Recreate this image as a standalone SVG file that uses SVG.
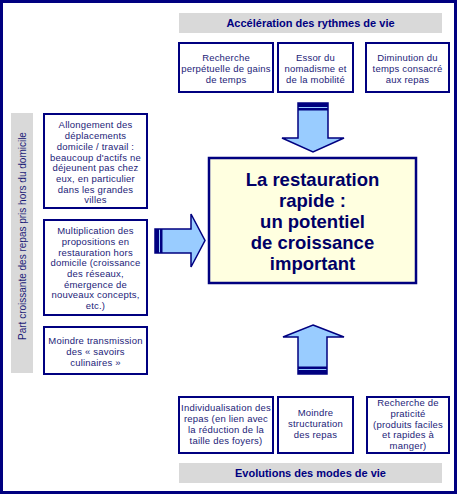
<svg xmlns="http://www.w3.org/2000/svg" width="459" height="497" viewBox="0 0 459 497">
<style>
.box{fill:#fff;stroke:#000080;stroke-width:2}
.hdr{fill:#d9d9d9}
.t{font-family:"Liberation Sans",Arial,sans-serif;font-size:9.5px;letter-spacing:0.2px;fill:#1c1c78;text-anchor:middle}
.h{font-family:"Liberation Sans",Arial,sans-serif;font-size:11px;font-weight:bold;fill:#000080;text-anchor:middle}
.c{font-family:"Liberation Sans",Arial,sans-serif;font-size:18.5px;font-weight:bold;fill:#000066;text-anchor:middle}
.arr{fill:#99ccff;stroke:#000080;stroke-width:1.5;stroke-linejoin:miter}
.band{fill:#000080}
.v{font-family:"Liberation Sans",Arial,sans-serif;font-size:10px;fill:#1c1c78;text-anchor:middle}
</style>
<rect x="1.5" y="1.5" width="454" height="491" fill="#fff" stroke="#000080" stroke-width="3"/>

<g id="header-top">
<rect class="hdr" x="179" y="13" width="263" height="20"/>
<text class="h" x="310.5" y="27">Accélération des rythmes de vie</text>
</g>
<g id="header-bottom">
<rect class="hdr" x="179" y="463" width="263" height="20"/>
<text class="h" x="310.5" y="477">Evolutions des modes de vie</text>
</g>
<g id="header-left">
<rect class="hdr" x="11" y="113" width="22" height="260"/>
<text class="v" transform="translate(25.5,236) rotate(-90)">Part croissante des repas pris hors du domicile</text>
</g>

<g id="top1">
<rect class="box" x="179" y="43" width="94" height="49"/>
<text class="t" x="226" y="61.3">Recherche</text>
<text class="t" x="226" y="72.3">perpétuelle de gains</text>
<text class="t" x="226" y="83.3">de temps</text>
</g>
<g id="top2">
<rect class="box" x="278" y="43" width="75" height="49"/>
<text class="t" x="315.5" y="61.3">Essor du</text>
<text class="t" x="315.5" y="72.3">nomadisme et</text>
<text class="t" x="315.5" y="83.3">de la mobilité</text>
</g>
<g id="top3">
<rect class="box" x="366" y="43" width="83" height="49"/>
<text class="t" x="407.5" y="61.3">Diminution du</text>
<text class="t" x="407.5" y="72.3">temps consacré</text>
<text class="t" x="407.5" y="83.3">aux repas</text>
</g>

<g id="left1">
<rect class="box" x="44" y="114" width="103" height="94"/>
<text class="t" x="95.5" y="128.3">Allongement des</text>
<text class="t" x="95.5" y="139.3">déplacements</text>
<text class="t" x="95.5" y="150">domicile / travail :</text>
<text class="t" x="95.5" y="160.6">beaucoup d'actifs ne</text>
<text class="t" x="95.5" y="171.3">déjeunent pas chez</text>
<text class="t" x="95.5" y="182">eux, en particulier</text>
<text class="t" x="95.5" y="192.6">dans les grandes</text>
<text class="t" x="95.5" y="203">villes</text>
</g>
<g id="left2">
<rect class="box" x="44" y="220" width="103" height="95"/>
<text class="t" x="95.5" y="234.3">Multiplication des</text>
<text class="t" x="95.5" y="245">propositions en</text>
<text class="t" x="95.5" y="255.6">restauration hors</text>
<text class="t" x="95.5" y="266.3">domicile (croissance</text>
<text class="t" x="95.5" y="277">des réseaux,</text>
<text class="t" x="95.5" y="287.6">émergence de</text>
<text class="t" x="95.5" y="298.3">nouveaux concepts,</text>
<text class="t" x="95.5" y="309">etc.)</text>
</g>
<g id="left3">
<rect class="box" x="44" y="327" width="103" height="47"/>
<text class="t" x="95.5" y="344.3">Moindre transmission</text>
<text class="t" x="95.5" y="355">des « savoirs</text>
<text class="t" x="95.5" y="365.6">culinaires »</text>
</g>

<g id="bottom1">
<rect class="box" x="179" y="397" width="94" height="56"/>
<text class="t" x="226" y="411.3">Individualisation des</text>
<text class="t" x="226" y="422.3">repas (en lien avec</text>
<text class="t" x="226" y="433.3">la réduction de la</text>
<text class="t" x="226" y="444.3">taille des foyers)</text>
</g>
<g id="bottom2">
<rect class="box" x="278" y="397" width="75" height="56"/>
<text class="t" x="315.5" y="416.3">Moindre</text>
<text class="t" x="315.5" y="427.3">structuration</text>
<text class="t" x="315.5" y="438.3">des repas</text>
</g>
<g id="bottom3">
<rect class="box" x="367" y="397" width="82" height="56"/>
<text class="t" x="408" y="406.3">Recherche de</text>
<text class="t" x="408" y="417">praticité</text>
<text class="t" x="408" y="427.6">(produits faciles</text>
<text class="t" x="408" y="438.3">et rapides à</text>
<text class="t" x="408" y="449">manger)</text>
</g>

<g id="center">
<rect x="209" y="158" width="207" height="125" fill="#ffffe0" stroke="#000080" stroke-width="2.5"/>
<text class="c" x="312.5" y="185.5">La restauration</text>
<text class="c" x="312.5" y="206.5">rapide :</text>
<text class="c" x="312.5" y="228">un potentiel</text>
<text class="c" x="312.5" y="248.5">de croissance</text>
<text class="c" x="312.5" y="269.5">important</text>
</g>

<g id="connectors">
<path class="arr" d="M298,103 H328 V138 H344 L313,152 L282,138 H298 Z"/>
<rect class="band" x="298" y="103" width="30" height="4"/>
<rect class="band" x="298" y="108" width="30" height="2.5"/>
<path class="arr" d="M313,325 L344,337 H327 V374 H298 V337 H283 Z"/>
<rect class="band" x="298" y="366.5" width="29" height="2.5"/>
<rect class="band" x="298" y="370" width="29" height="4"/>
<path class="arr" d="M155,229 H191 V214 L205,240.5 L191,267 V253 H155 Z"/>
<rect class="band" x="155" y="229" width="4" height="24"/>
<rect class="band" x="160" y="229" width="2.5" height="24"/>
</g>
</svg>
